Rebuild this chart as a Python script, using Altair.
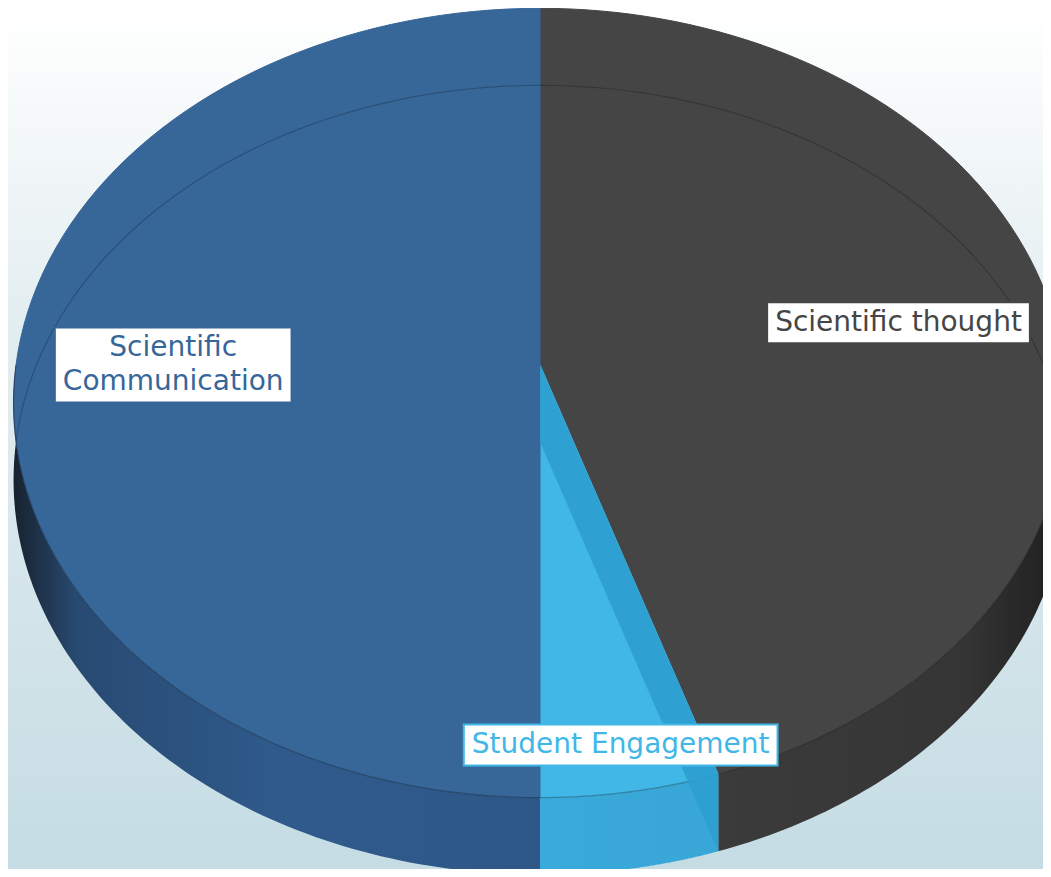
import textwrap
import altair as alt
import pandas as pd

# ---- data ----
categories = ["Scientific thought", "Student Engagement", "Scientific Communication"]
values = [45, 5, 50]

# ---- styles ----
top_colors = ["#454545", "#40b7e7", "#376699"]
wall_colors = ["#353535", "#2c9fcf", "#2b5686"]
side_gradients = {
    "Scientific thought": [("#3b3b3b", 0.0), ("#353535", 0.7), ("#1e1e1e", 1.0)],
    "Student Engagement": [("#3aaadb", 0.0), ("#38a6d6", 1.0)],
    "Scientific Communication": [("#18222f", 0.0), ("#284a72", 0.12),
                                 ("#2f5a8b", 0.5), ("#2e5888", 1.0)],
}

W, H = 1035, 861
CX, CY = 532, 357          # pie centre (plot pixels)
RA, RB = 524, 391          # radii of the top face
PERSP = 0.0962             # perspective strength
DEPTH = 77                 # thickness of the pie
N = 90                     # points per arc
FONT, FS, LH = "DejaVu Sans", 28, 34

ADV = {' ': 0.318, 'S': 0.635, 'c': 0.550, 'i': 0.278, 'e': 0.615, 'n': 0.634,
       't': 0.392, 'f': 0.352, 'h': 0.634, 'o': 0.612, 'u': 0.634, 'g': 0.635,
       'd': 0.635, 'E': 0.632, 'a': 0.613, 'm': 0.974, 'C': 0.698}


def text_w(s):
    return sum(ADV.get(ch, 0.6) for ch in s) * FS


lines = [textwrap.wrap(c, 20) for c in categories]
df = pd.DataFrame({
    "category": categories,
    "value": values,
    "idx": list(range(len(categories))),
    "label": ["\n".join(l) for l in lines],
    "nl": [len(l) for l in lines],
    "bw": [max(text_w(x) for x in l) + 16 for l in lines],
    "bh": [LH * len(l) + 7 for l in lines],
})

xs = alt.Scale(domain=[0, W], nice=False, zero=False)
ys = alt.Scale(domain=[0, H], nice=False, zero=False, reverse=True)


def X(f):
    return alt.X(f, type="quantitative", scale=xs, axis=None)


def Y(f):
    return alt.Y(f, type="quantitative", scale=ys, axis=None)


def base():
    return (alt.Chart(df)
            .transform_joinaggregate(total="sum(value)")
            .transform_window(cum="sum(value)", sort=[alt.SortField("idx")], frame=[None, 0])
            .transform_calculate(a1="2*PI*datum.cum/datum.total")
            .transform_calculate(a0="datum.a1 - 2*PI*datum.value/datum.total"))


def project(ch, ang, k="1"):
    return (ch.transform_calculate(uu=f"-cos({ang})*({k})")
              .transform_calculate(vv=f"sin({ang})*({k})")
              .transform_calculate(dd=f"1 - {PERSP}*datum.uu")
              .transform_calculate(rx=f"{CX} + {RA}*datum.vv/datum.dd")
              .transform_calculate(ry=f"{CY} + {RB}*datum.uu/datum.dd"))


cat_fill_top = alt.Fill("category:N", scale=alt.Scale(domain=categories, range=top_colors), legend=None)
cat_stroke = alt.Stroke("category:N", scale=alt.Scale(domain=categories, range=top_colors), legend=None)

# background
bg = alt.Chart(pd.DataFrame({"z": [0]})).mark_rect(
    color=alt.LinearGradient(gradient="linear", x1=0, x2=0, y1=0, y2=1,
                             stops=[alt.GradientStop(color="#ffffff", offset=0),
                                    alt.GradientStop(color="#e4eef1", offset=0.35),
                                    alt.GradientStop(color="#c5dce4", offset=1)])
).encode(x=alt.value(0), x2=alt.value(W), y=alt.value(0), y2=alt.value(H))

# side (front half of each slice) as closed polygons: rim forward, then rim+depth back
side_base = (base()
             .transform_calculate(s0="clamp(datum.a0, PI/2, 3*PI/2)")
             .transform_calculate(s1="clamp(datum.a1, PI/2, 3*PI/2)")
             .transform_calculate(t=f"sequence(0, {2 * N + 2})")
             .transform_flatten(["t"])
             .transform_calculate(
                 ang=f"datum.t <= {N} ? datum.s0 + (datum.s1 - datum.s0)*datum.t/{N}"
                     f" : datum.s1 - (datum.s1 - datum.s0)*(datum.t - {N} - 1)/{N}"))
side_base = project(side_base, "datum.ang").transform_calculate(
    sy=f"datum.t <= {N} ? datum.ry : datum.ry + {DEPTH}")

side_layers = []
for c in categories:
    g = alt.LinearGradient(gradient="linear", x1=0, x2=1, y1=0, y2=0,
                           stops=[alt.GradientStop(color=col, offset=o) for col, o in side_gradients[c]])
    side_layers.append(
        side_base.transform_filter(alt.datum.category == c)
        .mark_line(fill=g, strokeWidth=0, clip=True)
        .encode(x=X("rx"), y=Y("sy"), order="t:Q")
    )

# top face of each slice
top_base = (base()
            .transform_calculate(t=f"sequence(-1, {N + 2})")
            .transform_flatten(["t"])
            .transform_calculate(ang=f"datum.a0 + (datum.a1 - datum.a0)*clamp(datum.t, 0, {N})/{N}")
            .transform_calculate(isc=f"datum.t < 0 || datum.t > {N} ? 0 : 1"))
top_base = project(top_base, "datum.ang", "datum.isc")
top = top_base.mark_line(strokeWidth=1, clip=True, strokeJoin="round").encode(
    x=X("rx"), y=Y("ry"), order="t:Q", detail="category:N",
    fill=cat_fill_top, stroke=cat_stroke)

# rim line between top face and side
edge_line = side_base.transform_filter(f"datum.t <= {N}").mark_line(
    color="#000000", opacity=0.28, strokeWidth=1.3, clip=True).encode(
    x=X("rx"), y=Y("ry"), detail="category:N", order="t:Q")

# radial wall at the start of slices that start in the front half
wall_base = (base()
             .transform_filter("datum.a0 > PI/2 && datum.a0 < 3*PI/2")
             .transform_calculate(k="sequence(0, 4)")
             .transform_flatten(["k"])
             .transform_calculate(isc="datum.k == 0 || datum.k == 3 ? 0 : 1"))
wall_base = project(wall_base, "datum.a0", "datum.isc").transform_calculate(
    wy=f"datum.k >= 2 ? datum.ry + {DEPTH} : datum.ry")
wall = wall_base.mark_line(strokeWidth=0, clip=True, opacity=0.9).encode(
    x=X("rx"), y=Y("wy"), order="k:Q", detail="category:N",
    fill=alt.Fill("category:N", scale=alt.Scale(domain=categories, range=wall_colors), legend=None))

# back edge of the bottom face, seen through the top
back = alt.Chart(alt.sequence(0, N + 1, as_="t")).transform_calculate(
    ang=f"-PI/2 + PI*datum.t/{N}")
back = project(back, "datum.ang").transform_calculate(by=f"datum.ry + {DEPTH}")
back_line = back.mark_line(color="#000000", opacity=0.22, strokeWidth=1.2, clip=True).encode(
    x=X("rx"), y=Y("by"), order="t:Q")

# data labels
lab = (base()
       .transform_calculate(mid="(datum.a0 + datum.a1)/2")
       .transform_calculate(kk="datum.value/datum.total < 0.1 ? 0.9 : 0.7"))
lab = project(lab, "datum.mid", "datum.kk").transform_calculate(
    bx0="datum.rx - datum.bw/2", bx1="datum.rx + datum.bw/2",
    by0="datum.ry - datum.bh/2", by1="datum.ry + datum.bh/2",
    ty=f"datum.ry - (datum.nl - 1)*{LH}/2")
lab_box = lab.mark_rect(fill="#ffffff", strokeWidth=2).encode(
    x=X("bx0"), x2="bx1", y=Y("by0"), y2="by1", stroke=cat_stroke)
lab_text = lab.mark_text(font=FONT, fontSize=FS, lineBreak="\n", lineHeight=LH,
                         align="center", baseline="middle").encode(
    x=X("rx"), y=Y("ty"), text="label:N",
    color=alt.Color("category:N", scale=alt.Scale(domain=categories, range=top_colors), legend=None))

chart = alt.layer(bg, *side_layers, top, edge_line, wall, back_line, lab_box, lab_text).resolve_scale(
    fill="independent").properties(
    width=W, height=H, padding=0, autosize=alt.AutoSizeParams(type="none")
).configure_view(strokeWidth=0)

chart.save("out.html", embed_options={"renderer": "svg", "actions": False})
